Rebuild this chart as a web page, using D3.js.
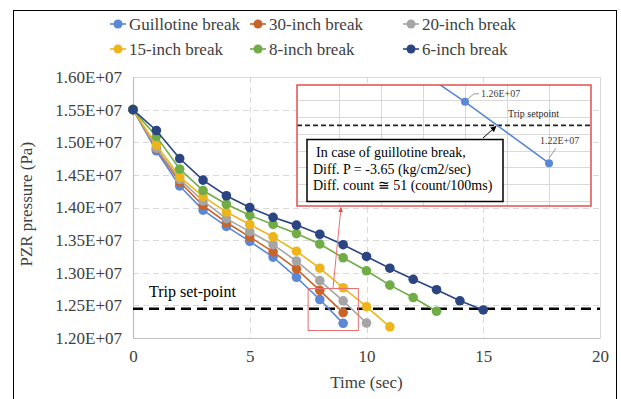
<!DOCTYPE html>
<html lang="en">
<head>
<meta charset="UTF-8">
<title>PZR pressure</title>
<style>
  body { margin: 0; background: #fff; }
  svg, svg text { font-family: "Liberation Serif", "Times New Roman", Times, serif !important; }
</style>
</head>
<body>
<svg width="621" height="399" font-family="Liberation Serif, serif"></svg>
<script src="https://cdn.jsdelivr.net/npm/d3@7"></script>
<script>
  // data (Pa), one point per second
  var seriesNames = ["Guillotine break", "30-inch break", "20-inch break", "15-inch break", "8-inch break", "6-inch break"];
  var guillotine = [15500000, 14870000, 14330000, 13960000, 13710000, 13480000, 13240000, 12930000, 12590000, 12225000];
  var inch30 = [15500000, 14900000, 14390000, 14030000, 13770000, 13550000, 13320000, 13060000, 12730000, 12390000];
  var inch20 = [15500000, 14910000, 14430000, 14100000, 13830000, 13630000, 13430000, 13180000, 12880000, 12570000, 12230000];
  var inch15 = [15500000, 14960000, 14470000, 14170000, 13930000, 13740000, 13550000, 13330000, 13070000, 12770000, 12480000, 12170000];
  var inch8 = [15500000, 15090000, 14590000, 14260000, 14050000, 13880000, 13740000, 13600000, 13440000, 13230000, 13030000, 12810000, 12620000, 12410000];
  var inch6 = [15500000, 15180000, 14750000, 14420000, 14180000, 14000000, 13850000, 13730000, 13590000, 13430000, 13250000, 13070000, 12900000, 12740000, 12570000, 12430000];
  var tripSetpoint = 12450000;
  var xTicks = [0, 5, 10, 15, 20];
  var yTicks = [12000000, 12500000, 13000000, 13500000, 14000000, 14500000, 15000000, 15500000, 16000000];
  var insetLabels = ["1.26E+07", "1.22E+07"];
  var noteLines = ["In case of guillotine break,", "Diff. P = -3.65 (kg/cm2/sec)", "Diff. count \u2245 51 (count/100ms)"];

  var colors = ["#5B87D6", "#C8642A", "#A5A5A5", "#EDB51B", "#70AD47", "#2B4582"];
  var allSeries = [guillotine, inch30, inch20, inch15, inch8, inch6];

  var svg = d3.select('svg');

  // outer frame
  svg.append('rect').attr('x', 13.5).attr('y', 10.5).attr('width', 603).attr('height', 400)
    .attr('fill', 'none').attr('stroke', '#000').attr('stroke-width', 1);

  var x = d3.scaleLinear().domain([0, 20]).range([133, 600]);
  var y = d3.scaleLinear().domain([12000000, 16000000]).range([338, 77]);

  var fmt = function (d) { return (d / 1e7).toFixed(2) + 'E+07'; };

  // gridlines
  var grid = svg.append('g');
  grid.selectAll('.hg').data(yTicks.slice(1)).enter().append('line')
    .attr('x1', x(0)).attr('x2', x(20))
    .attr('y1', function (d) { return Math.round(y(d)) + 0.5; })
    .attr('y2', function (d) { return Math.round(y(d)) + 0.5; })
    .attr('stroke', '#D9D9D9').attr('stroke-dasharray', function (d, i) { return i == yTicks.length - 2 ? null : '6,4'; });
  grid.selectAll('.vg').data(xTicks.slice(1)).enter().append('line')
    .attr('y1', y(16000000)).attr('y2', y(12000000))
    .attr('x1', function (d) { return Math.round(x(d)) + 0.5; })
    .attr('x2', function (d) { return Math.round(x(d)) + 0.5; })
    .attr('stroke', '#D9D9D9').attr('stroke-dasharray', function (d) { return d == 20 ? null : '6,4'; });

  // axes
  var xAxis = svg.append('g').attr('transform', 'translate(0,338)')
    .call(d3.axisBottom(x).tickValues(xTicks).tickSize(0).tickPadding(12));
  var yAxis = svg.append('g').attr('transform', 'translate(133,0)')
    .call(d3.axisLeft(y).tickValues(yTicks).tickFormat(fmt).tickSize(0).tickPadding(11));
  [xAxis, yAxis].forEach(function (a) {
    a.attr('font-family', null).attr('font-size', null);
    a.select('.domain').attr('stroke', '#BFBFBF').attr('stroke-width', 1.2);
    a.selectAll('text').style('font-size', '17px').attr('fill', '#404040');
  });

  svg.append('text').attr('x', x(10)).attr('y', 388).attr('text-anchor', 'middle')
    .style('font-size', '17px').attr('fill', '#404040').text('Time (sec)');
  svg.append('text').attr('transform', 'translate(32,' + y(14050000) + ') rotate(-90)').attr('text-anchor', 'middle')
    .style('font-size', '17px').attr('fill', '#404040').text('PZR pressure (Pa)');

  // trip set-point
  svg.append('line').attr('x1', x(0)).attr('x2', x(20)).attr('y1', y(tripSetpoint)).attr('y2', y(tripSetpoint))
    .attr('stroke', '#000').attr('stroke-width', 2.5).attr('stroke-dasharray', '10,6');
  svg.append('text').attr('x', 149).attr('y', y(tripSetpoint) - 12).style('font-size', '16px').attr('fill', '#000')
    .text('Trip set-point');

  // series
  var line = d3.line().x(function (d, i) { return x(i); }).y(function (d) { return y(d); });
  allSeries.forEach(function (s, k) {
    var g = svg.append('g');
    g.append('path').attr('d', line(s)).attr('fill', 'none').attr('stroke', colors[k]).attr('stroke-width', 1.6);
    g.selectAll('circle').data(s).enter().append('circle')
      .attr('cx', function (d, i) { return x(i); }).attr('cy', function (d) { return y(d); })
      .attr('r', 4.8).attr('fill', colors[k]);
  });

  // legend
  var legX = [110, 250, 403], legY = [24, 49];
  seriesNames.forEach(function (n, k) {
    var lx = legX[k % 3], ly = legY[Math.floor(k / 3)];
    var g = svg.append('g').attr('transform', 'translate(' + lx + ',' + ly + ')');
    g.append('line').attr('x1', 0).attr('x2', 16).attr('stroke', colors[k]).attr('stroke-width', 1.6);
    g.append('circle').attr('cx', 8).attr('r', 4.5).attr('fill', colors[k]);
    g.append('text').attr('x', 19).attr('dy', '0.35em').style('font-size', '17px').attr('fill', '#404040').text(n);
  });

  // small red box and pointer
  var defs = svg.append('defs');
  defs.append('marker').attr('id', 'redHead').attr('viewBox', '0 0 10 10').attr('refX', 9).attr('refY', 5)
    .attr('markerWidth', 5).attr('markerHeight', 5).attr('orient', 'auto')
    .append('path').attr('d', 'M0,0 L10,5 L0,10 z').attr('fill', '#E05050');
  defs.append('marker').attr('id', 'blackHead').attr('viewBox', '0 0 10 10').attr('refX', 9).attr('refY', 5)
    .attr('markerWidth', 6).attr('markerHeight', 6).attr('orient', 'auto')
    .append('path').attr('d', 'M0,0 L10,5 L0,10 z').attr('fill', '#000');

  svg.append('rect').attr('x', x(7.5)).attr('y', 288.5).attr('width', x(9.65) - x(7.5)).attr('height', 42)
    .attr('fill', 'none').attr('stroke', '#E87070').attr('stroke-width', 1);
  svg.append('line').attr('x1', 333).attr('y1', 288).attr('x2', 341).attr('y2', 207.5)
    .attr('stroke', '#E87070').attr('stroke-width', 1).attr('marker-end', 'url(#redHead)');

  // inset (zoom of guillotine break near trip)
  var ix = d3.scaleLinear().domain([6, 9.5]).range([297, 591]);
  var iy = d3.scaleLinear().domain([11970000, 12690000]).range([206, 85]);
  var inset = svg.append('g');
  defs.append('clipPath').attr('id', 'insetClip').append('rect')
    .attr('x', 297).attr('y', 85).attr('width', 294).attr('height', 121);
  inset.append('rect').attr('x', 297).attr('y', 85).attr('width', 294).attr('height', 121).attr('fill', '#fff');
  inset.selectAll('.ivg').data([6.5, 7, 7.5, 8, 8.5, 9]).enter().append('line')
    .attr('x1', function (d) { return Math.round(ix(d)) + 0.5; }).attr('x2', function (d) { return Math.round(ix(d)) + 0.5; })
    .attr('y1', 85).attr('y2', 206).attr('stroke', '#D9D9D9');
  inset.selectAll('.ihg').data([12000000, 12100000, 12200000, 12300000, 12400000, 12500000, 12600000]).enter().append('line')
    .attr('y1', function (d) { return Math.round(iy(d)) + 0.5; }).attr('y2', function (d) { return Math.round(iy(d)) + 0.5; })
    .attr('x1', 297).attr('x2', 591).attr('stroke', '#D9D9D9');
  inset.append('line').attr('x1', 297).attr('x2', 591).attr('y1', iy(tripSetpoint)).attr('y2', iy(tripSetpoint))
    .attr('stroke', '#222').attr('stroke-width', 1.6).attr('stroke-dasharray', '5,3');
  var iline = d3.line().x(function (d, i) { return ix(i); }).y(function (d) { return iy(d); });
  var ig = inset.append('g').attr('clip-path', 'url(#insetClip)');
  ig.append('path').attr('d', iline(guillotine)).attr('fill', 'none').attr('stroke', colors[0]).attr('stroke-width', 1.6);
  ig.selectAll('circle').data(guillotine.slice(8)).enter().append('circle')
    .attr('cx', function (d, i) { return ix(i + 8); }).attr('cy', function (d) { return iy(d); })
    .attr('r', 4).attr('fill', colors[0]);

  // data labels
  var p8 = [ix(8), iy(guillotine[8])], p9 = [ix(9), iy(guillotine[9])];
  inset.append('path').attr('d', 'M' + (p8[0] + 3) + ',' + (p8[1] - 3) + ' L' + (p8[0] + 9) + ',' + (p8[1] - 8) + ' h5')
    .attr('fill', 'none').attr('stroke', '#7F7F7F').attr('stroke-width', 0.8);
  inset.append('text').attr('x', p8[0] + 16).attr('y', p8[1] - 5).style('font-size', '10px').attr('fill', '#404040').text(insetLabels[0]);
  inset.append('path').attr('d', 'M' + (p9[0]) + ',' + (p9[1] - 5) + ' L' + (p9[0] + 7) + ',' + (p9[1] - 15))
    .attr('fill', 'none').attr('stroke', '#7F7F7F').attr('stroke-width', 0.8);
  inset.append('text').attr('x', p9[0] - 9).attr('y', p9[1] - 19).style('font-size', '10px').attr('fill', '#404040').text(insetLabels[1]);
  inset.append('text').attr('x', 508).attr('y', iy(tripSetpoint) - 8).style('font-size', '10px').attr('fill', '#262626').text('Trip setpoint');

  // note box
  inset.append('rect').attr('x', 307).attr('y', 139.5).attr('width', 196).attr('height', 62)
    .attr('fill', '#fff').attr('stroke', '#000').attr('stroke-width', 1.5);
  inset.selectAll('.note').data(noteLines).enter().append('text')
    .attr('x', function (d, i) { return i == 0 ? 316 : 313; })
    .attr('y', function (d, i) { return 157 + i * 16.5; })
    .style('font-size', '14px').attr('fill', '#000').text(function (d) { return d; });
  inset.append('line').attr('x1', 483).attr('y1', 138).attr('x2', 496).attr('y2', iy(tripSetpoint) + 1)
    .attr('stroke', '#000').attr('stroke-width', 1).attr('marker-end', 'url(#blackHead)');

  inset.append('rect').attr('x', 297).attr('y', 85).attr('width', 294).attr('height', 121)
    .attr('fill', 'none').attr('stroke', '#E05050').attr('stroke-width', 1.5);
</script>
</body>
</html>
